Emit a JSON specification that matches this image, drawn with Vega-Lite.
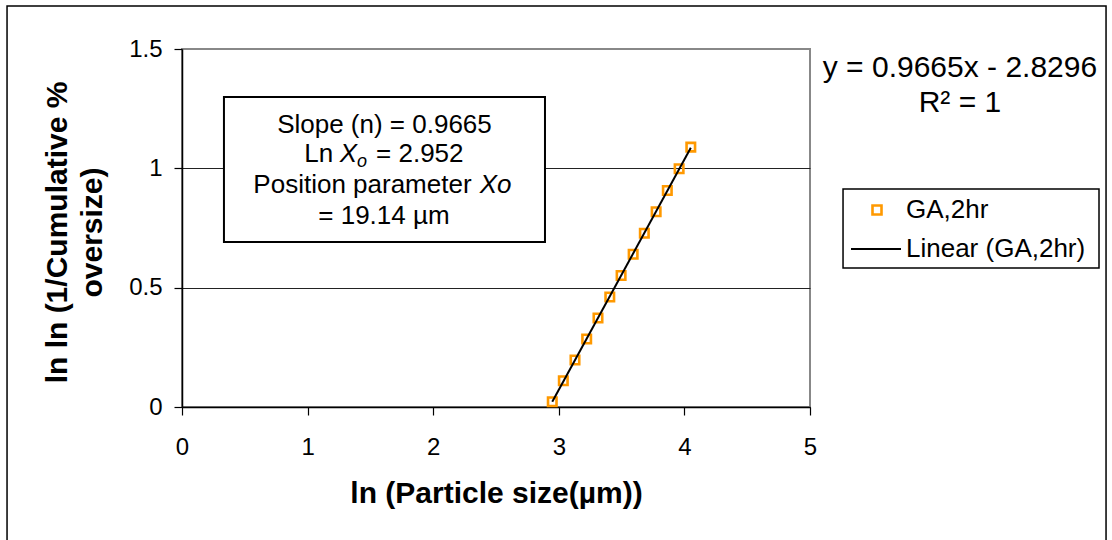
{
  "$schema": "https://vega.github.io/schema/vega-lite/v6.json",
  "width": 628,
  "height": 358,
  "autosize": {"type": "none"},
  "padding": {"left": 182, "top": 49, "right": 302, "bottom": 133},
  "background": "white",
  "config": {
    "font": "Liberation Sans",
    "view": {"stroke": "#888888", "strokeWidth": 2}
  },
  "datasets": {
    "ga2hr": [
      {"x": 2.948, "y": 0.022},
      {"x": 3.036, "y": 0.110},
      {"x": 3.129, "y": 0.197},
      {"x": 3.222, "y": 0.285},
      {"x": 3.312, "y": 0.373},
      {"x": 3.406, "y": 0.461},
      {"x": 3.496, "y": 0.551},
      {"x": 3.592, "y": 0.640},
      {"x": 3.681, "y": 0.728},
      {"x": 3.775, "y": 0.818},
      {"x": 3.864, "y": 0.907},
      {"x": 3.958, "y": 0.998},
      {"x": 4.051, "y": 1.089}
    ],
    "one": [{}]
  },
  "layer": [
    {
      "data": {"name": "one"},
      "mark": {"type": "rect", "fill": "transparent", "stroke": "black", "strokeWidth": 1.5},
      "encoding": {
        "x": {"datum": -1.393}, "x2": {"datum": 7.357},
        "y": {"datum": 1.680}, "y2": {"datum": -0.578}
      }
    },
    {
      "data": {"name": "one"},
      "mark": {"type": "rect", "fill": "white", "stroke": "black", "strokeWidth": 1.5},
      "encoding": {
        "x": {"datum": 5.263}, "x2": {"datum": 7.301},
        "y": {"datum": 0.9134}, "y2": {"datum": 0.5824}
      }
    },
    {
      "data": {"name": "ga2hr"},
      "mark": {"type": "point", "shape": "square", "filled": false, "size": 72, "strokeWidth": 2.6, "opacity": 1},
      "encoding": {
        "x": {
          "field": "x", "type": "quantitative",
          "scale": {"domain": [0, 5], "nice": false, "zero": false},
          "axis": {
            "title": "ln (Particle size(µm))",
            "values": [0, 1, 2, 3, 4, 5],
            "format": "~g",
            "grid": false,
            "labelFlush": false,
            "domainColor": "black", "domainWidth": 1.5,
            "tickColor": "black", "tickSize": 8, "tickWidth": 1.2,
            "labelFontSize": 24, "labelColor": "black", "labelPadding": 20, "labelFont": "Liberation Sans",
            "titleFontSize": 30, "titleFontWeight": "bold", "titleColor": "black", "titleFont": "Liberation Sans",
            "titleBaseline": "alphabetic", "titleY": 95
          }
        },
        "y": {
          "field": "y", "type": "quantitative",
          "scale": {"domain": [0, 1.5], "nice": false, "zero": false},
          "axis": {
            "title": ["ln ln (1/Cumulative %", "oversize)"],
            "values": [0, 0.5, 1, 1.5],
            "format": "~g",
            "grid": true,
            "labelFlush": false,
            "gridColor": {"condition": {"test": "datum.value === 1.5", "value": "#888888"}, "value": "#222222"},
            "gridWidth": 1,
            "domainColor": "black", "domainWidth": 1.5,
            "tickColor": "black", "tickSize": 8, "tickWidth": 1.2,
            "labelFontSize": 24, "labelColor": "black", "labelPadding": 12, "labelFont": "Liberation Sans",
            "titleFontSize": 30, "titleFontWeight": "bold", "titleColor": "black", "titleFont": "Liberation Sans",
            "titleLineHeight": 35, "titleAngle": 270, "titleBaseline": "alphabetic", "titleAlign": "center",
            "titleX": -116, "titleY": 183
          }
        },
        "stroke": {
          "datum": "GA,2hr",
          "scale": {"domain": ["GA,2hr"], "range": ["#FF9900"]},
          "legend": {
            "title": null,
            "orient": "none",
            "legendX": 682,
            "legendY": 148,
            "padding": 0,
            "symbolType": "square",
            "symbolSize": 81,
            "symbolStrokeWidth": 2.6,
            "symbolFillColor": "transparent",
            "labelOffset": 16,
            "labelLimit": 400,
            "labelFontSize": 26,
            "labelFont": "Liberation Sans",
            "labelColor": "black"
          }
        }
      }
    },
    {
      "data": {"name": "ga2hr"},
      "transform": [{"regression": "y", "on": "x"}],
      "mark": {"type": "line", "strokeWidth": 2},
      "encoding": {
        "x": {"field": "x", "type": "quantitative"},
        "y": {"field": "y", "type": "quantitative"},
        "color": {
          "datum": "Linear (GA,2hr)",
          "scale": {"domain": ["Linear (GA,2hr)"], "range": ["black"]},
          "legend": {
            "title": null,
            "orient": "none",
            "legendX": 668,
            "legendY": 174,
            "padding": 0,
            "symbolType": "stroke",
            "symbolSize": 2500,
            "symbolStrokeWidth": 2,
            "labelOffset": 4,
            "labelLimit": 400,
            "labelFontSize": 26,
            "labelFont": "Liberation Sans",
            "labelColor": "black"
          }
        }
      }
    },
    {
      "data": {"name": "one"},
      "mark": {"type": "rect", "fill": "white", "stroke": "black", "strokeWidth": 2},
      "encoding": {
        "x": {"datum": 0.334}, "x2": {"datum": 2.890},
        "y": {"datum": 1.2989}, "y2": {"datum": 0.6913}
      }
    },
    {
      "data": {"name": "one"},
      "mark": {"type": "text", "text": "Slope (n) = 0.9665", "fontSize": 26, "align": "center", "baseline": "alphabetic", "color": "black"},
      "encoding": {"x": {"datum": 1.612}, "y": {"datum": 1.1468}}
    },
    {
      "data": {"name": "one"},
      "mark": {"type": "text", "text": "Ln", "fontSize": 26, "align": "left", "baseline": "alphabetic", "color": "black"},
      "encoding": {"x": {"datum": 0.974}, "y": {"datum": 1.0253}}
    },
    {
      "data": {"name": "one"},
      "mark": {"type": "text", "text": "X", "fontSize": 26, "fontStyle": "italic", "align": "left", "baseline": "alphabetic", "color": "black"},
      "encoding": {"x": {"datum": 1.255}, "y": {"datum": 1.0253}}
    },
    {
      "data": {"name": "one"},
      "mark": {"type": "text", "text": "o", "fontSize": 18, "fontStyle": "italic", "align": "left", "baseline": "alphabetic", "dy": 5, "color": "black"},
      "encoding": {"x": {"datum": 1.393}, "y": {"datum": 1.0253}}
    },
    {
      "data": {"name": "one"},
      "mark": {"type": "text", "text": "= 2.952", "fontSize": 26, "align": "left", "baseline": "alphabetic", "color": "black"},
      "encoding": {"x": {"datum": 1.545}, "y": {"datum": 1.0253}}
    },
    {
      "data": {"name": "one"},
      "mark": {"type": "text", "text": "Position parameter", "fontSize": 26, "align": "left", "baseline": "alphabetic", "color": "black"},
      "encoding": {"x": {"datum": 0.568}, "y": {"datum": 0.8954}}
    },
    {
      "data": {"name": "one"},
      "mark": {"type": "text", "text": "Xo", "fontSize": 26, "fontStyle": "italic", "align": "left", "baseline": "alphabetic", "color": "black"},
      "encoding": {"x": {"datum": 2.37}, "y": {"datum": 0.8954}}
    },
    {
      "data": {"name": "one"},
      "mark": {"type": "text", "text": "= 19.14 µm", "fontSize": 26, "align": "center", "baseline": "alphabetic", "color": "black"},
      "encoding": {"x": {"datum": 1.608}, "y": {"datum": 0.7668}}
    },
    {
      "data": {"name": "one"},
      "mark": {"type": "text", "text": "y = 0.9665x - 2.8296", "fontSize": 30, "align": "center", "baseline": "alphabetic", "color": "black"},
      "encoding": {"x": {"datum": 6.194}, "y": {"datum": 1.3827}}
    },
    {
      "data": {"name": "one"},
      "mark": {"type": "text", "text": "R² = 1", "fontSize": 30, "align": "center", "baseline": "alphabetic", "color": "black"},
      "encoding": {"x": {"datum": 6.194}, "y": {"datum": 1.236}}
    }
  ]
}
